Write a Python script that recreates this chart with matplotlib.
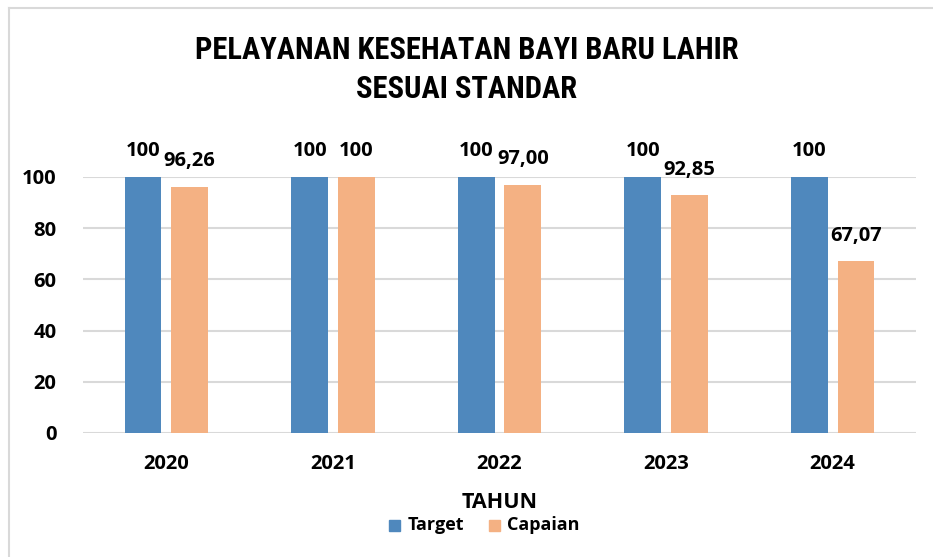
import matplotlib.pyplot as plt
import numpy as np

# data
tahun = ['2020', '2021', '2022', '2023', '2024']
target = [100, 100, 100, 100, 100]
capaian = [96.26, 100, 97.00, 92.85, 67.07]
label_target = ['100', '100', '100', '100', '100']
label_capaian = ['96,26', '100', '97,00', '92,85', '67,07']

plt.rcParams['font.family'] = ['Open Sans', 'DejaVu Sans']
plt.rcParams['font.weight'] = 'bold'

blue = '#4F88BD'
orange = '#F4B183'
title_font = ['Roboto Condensed', 'Open Sans']

fig = plt.figure(figsize=(9.33, 5.57), dpi=100)
ax = fig.add_axes([83 / 933, 1 - 433 / 557, 833 / 933, 256 / 557])

x = np.arange(len(tahun))
w = 0.22
off = 0.14
ax.bar(x - off, target, w, color=blue, zorder=2)
ax.bar(x + off, capaian, w, color=orange, zorder=2)

for i in range(len(tahun)):
    ax.annotate(label_target[i], (x[i] - off, target[i]), xytext=(0, 18.5),
                textcoords='offset points', ha='center', va='center',
                fontsize=14.5, fontweight='bold')
    ax.annotate(label_capaian[i], (x[i] + off, capaian[i]), xytext=(0, 18.5),
                textcoords='offset points', ha='center', va='center',
                fontsize=14.5, fontweight='bold')

ax.set_xlim(-0.5, len(tahun) - 0.5)
ax.set_ylim(0, 100)
ax.set_yticks([0, 20, 40, 60, 80, 100])
ax.set_xticks(x)
ax.set_xticklabels(tahun)
ax.tick_params(axis='both', length=0, labelsize=14.5)
ax.tick_params(axis='x', pad=15)
ax.tick_params(axis='y', pad=19)
ax.yaxis.grid(True, color='#D9D9D9', linewidth=1.5, zorder=0)
ax.set_axisbelow(True)
for s in ax.spines.values():
    s.set_visible(False)

fig.text(0.5, 1 - 50 / 557, 'PELAYANAN KESEHATAN BAYI BARU LAHIR', ha='center',
         va='center', fontsize=22, fontweight='bold', family=title_font)
fig.text(0.5, 1 - 89 / 557, 'SESUAI STANDAR', ha='center', va='center',
         fontsize=22, fontweight='bold', family=title_font)
fig.text(500 / 933, 1 - 502 / 557, 'TAHUN', ha='center', va='center', fontsize=15.5,
         fontweight='bold')

# legend
fig.patches.append(plt.Rectangle((389 / 933, 1 - 531 / 557), 11 / 933, 11 / 557,
                                 color=blue, transform=fig.transFigure))
fig.text(408 / 933, 1 - 525 / 557, 'Target', ha='left', va='center', fontsize=13,
         fontweight='bold')
fig.patches.append(plt.Rectangle((489 / 933, 1 - 531 / 557), 11 / 933, 11 / 557,
                                 color=orange, transform=fig.transFigure))
fig.text(507 / 933, 1 - 525 / 557, 'Capaian', ha='left', va='center', fontsize=13,
         fontweight='bold')

# frame lines (left and top only)
fig.add_artist(plt.Line2D([9 / 933, 9 / 933], [0, 1 - 8 / 557], color='#D9D9D9',
                          linewidth=1.5, transform=fig.transFigure))
fig.add_artist(plt.Line2D([9 / 933, 1], [1 - 8 / 557, 1 - 8 / 557], color='#D9D9D9',
                          linewidth=1.5, transform=fig.transFigure))

fig.savefig('out.png', dpi=100)
